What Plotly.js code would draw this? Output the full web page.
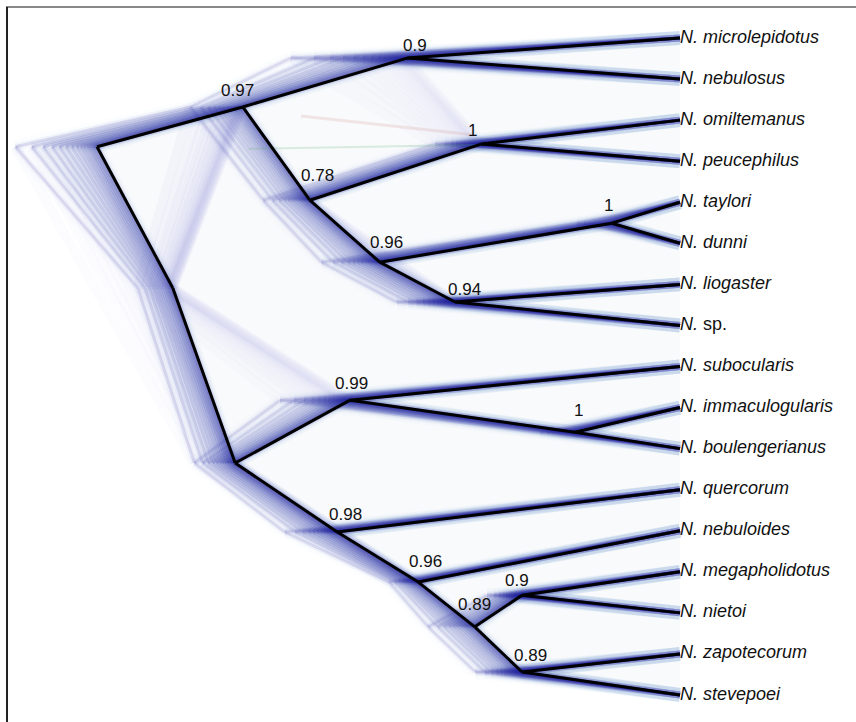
<!DOCTYPE html>
<html>
<head>
<meta charset="utf-8">
<script src="https://cdn.plot.ly/plotly-3.0.1.min.js"></script>
<style>html,body{margin:0;padding:0;background:#fff;}#chart{width:856px;height:722px;}</style>
</head>
<body>
<div id="chart"></div>
<script>
// ---- Data ----
// tips (species), top to bottom
const tipNames = ['microlepidotus','nebulosus','omiltemanus','peucephilus','taylori','dunni',
  'liogaster','sp.','subocularis','immaculogularis','boulengerianus','quercorum','nebuloides',
  'megapholidotus','nietoi','zapotecorum','stevepoei'];
// internal nodes: id, relative age (tips = 0, root = 100), vertical position (in tip-index units)
const nodeIds   = ['root','A','B','C','D','E','F','G','K','L','M','N','O','P','Q','R','S'];
const nodeAge   = [100, 75.0, 46.8, 34.0, 63.5, 51.5, 11.7, 38.6, 87.0, 76.3, 56.6, 18.0, 58.8, 44.9, 35.2, 27.1, 27.1];
const nodePos   = [2.65, 1.68, 0.49, 2.58, 3.95, 5.46, 4.51, 6.43, 6.09, 10.35, 8.82, 9.60, 12.03, 13.25, 14.34, 13.57, 15.44];
// posterior support of each clade
const nodeSupport = ['', '0.97', '0.9', '1', '0.78', '0.96', '1', '0.94', '', '', '0.99', '1', '0.98', '0.96', '0.89', '0.9', '0.89'];
// how far (in age units) each node height varies across the sampled trees
const nodeSpread = [14, 9, 20, 8, 8, 10, 6, 10, 6, 7, 12, 6, 9, 5, 8, 6, 8];
// branches: parent -> child (tN = tip N)
const edgeParent = ['root','root','K','A','A','B','B','D','D','C','C','E','E','F','F','G','G',
  'L','L','M','M','N','N','O','O','P','P','Q','Q','R','R','S','S'];
const edgeChild  = ['A','K','L','B','D','t0','t1','C','E','t2','t3','F','G','t4','t5','t6','t7',
  'M','O','t8','N','t9','t10','t11','P','t12','Q','R','S','t13','t14','t15','t16'];
// less frequent alternative branches seen in the tree cloud
const altParent = ['A','K','L','D','root','B','K'];
const altChild  = ['K','M','P','G','L','C','A'];
// sampled-tree height fractions used to draw the cloud (most trees near the consensus)
const cloudSteps = [0, 0.02, 0.04, 0.06, 0.09, 0.12, 0.16, 0.2, 0.25, 0.31, 0.38, 0.46, 0.55, 0.66, 0.8, 1.0];

// ---- helpers ----
function age(id){ if(id[0]==='t') return 0; return nodeAge[nodeIds.indexOf(id)]; }
function pos(id){ if(id[0]==='t') return +id.slice(1); return nodePos[nodeIds.indexOf(id)]; }
function spread(id){ if(id[0]==='t') return 0; return nodeSpread[nodeIds.indexOf(id)]; }

const traces = [];

// haze envelope of the whole cloud
const hazeIds = ['root','A','B','t0','t16','S','Q','P','O','L','K','root'];
traces.push({x: hazeIds.map((id)=>age(id) + spread(id)*0.8),
  y: hazeIds.map(pos), mode:'lines', fill:'toself', fillcolor:'rgba(205,212,232,0.12)',
  line:{width:0, color:'rgba(0,0,0,0)'}, hoverinfo:'skip'});

function cloudFrom(parents, children, width, color){
  const x=[], y=[];
  for(const k of cloudSteps){
    for(let i=0;i<parents.length;i++){
      const p=parents[i], c=children[i];
      x.push(age(p)+spread(p)*k, age(c)+spread(c)*k, null);
      y.push(pos(p), pos(c), null);
    }
  }
  return {x, y, mode:'lines', line:{color, width}, hoverinfo:'skip'};
}
// alternative topologies (faint)
traces.push(cloudFrom(altParent, altChild, 10, 'rgba(110,120,200,0.022)'));
// tree cloud: wide pale pass, then narrower darker passes
traces.push(cloudFrom(edgeParent, edgeChild, 14, 'rgba(120,130,210,0.02)'));
traces.push(cloudFrom(edgeParent, edgeChild, 7, 'rgba(70,80,190,0.045)'));
traces.push(cloudFrom(edgeParent, edgeChild, 3, 'rgba(30,35,160,0.12)'));

// faint coloured stray lines
traces.push({x:[age('A')-10, age('C')+2], y:[1.9, 2.35],
  mode:'lines', line:{color:'rgba(200,120,110,0.16)', width:3}, hoverinfo:'skip'});
traces.push({x:[age('A')-1, age('C')], y:[2.7, 2.6],
  mode:'lines', line:{color:'rgba(90,170,110,0.2)', width:2}, hoverinfo:'skip'});

// consensus tree
(function(){
  const x=[], y=[];
  for(let i=0;i<edgeParent.length;i++){
    const p=edgeParent[i], c=edgeChild[i];
    x.push(age(p), age(c), null); y.push(pos(p), pos(c), null);
  }
  traces.push({x, y, mode:'lines', line:{color:'#000', width:3}, hoverinfo:'skip'});
})();

// tip labels
traces.push({x: tipNames.map(()=>0), y: tipNames.map((n,i)=>i), mode:'text',
  text: tipNames.map(n => n==='sp.' ? '<i>N.</i> sp.' : '<i>N. '+n+'</i>'),
  textposition:'middle right', textfont:{family:'Liberation Sans, Arial, sans-serif', size:18, color:'#111'},
  hoverinfo:'skip', cliponaxis:false});

// support label offsets (px: right, up)
const labDx = [0,-5,8,-9,8,7,-3,10,0,0,1,3,8,7,0,-5,8];
const labDy = [0,16,13,13,25,20,18,13,0,0,17,22,17,21,22,15,17];
const annotations = [];
nodeIds.forEach((id,i)=>{
  if(!nodeSupport[i]) return;
  annotations.push({x: nodeAge[i], y: nodePos[i], text: nodeSupport[i], showarrow:false,
    xanchor:'center', yanchor:'middle', xshift: labDx[i], yshift: labDy[i],
    font:{family:'Liberation Sans, Arial, sans-serif', size:17, color:'#111'}});
});

// axis mapping: tips (age 0) at px 680, root (age 100) at px 97
const pxPerAge = (680-97)/100;
const tipStep = (695-38)/16;
const layout = {
  width:856, height:722, margin:{l:0,r:0,t:0,b:0}, showlegend:false,
  paper_bgcolor:'#fff', plot_bgcolor:'#fff',
  xaxis:{range:[680/pxPerAge, (680-856)/pxPerAge], visible:false, fixedrange:true},
  yaxis:{range:[(722-38)/tipStep, -38/tipStep], visible:false, fixedrange:true},
  annotations,
  shapes:[
    {type:'line', xref:'paper', yref:'paper', x0:0.007, x1:1, y0:1-7/722, y1:1-7/722, line:{color:'#888', width:2}},
    {type:'line', xref:'paper', yref:'paper', x0:7/856, x1:7/856, y0:0, y1:1-7/722, line:{color:'#222', width:2}}
  ]
};
Plotly.newPlot('chart', traces, layout, {staticPlot:true, displayModeBar:false});
</script>
</body>
</html>
